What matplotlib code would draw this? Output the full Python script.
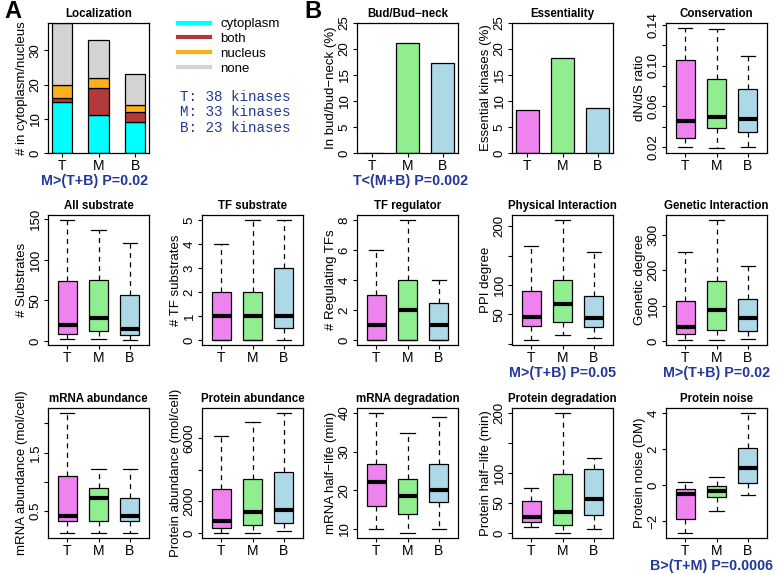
import numpy as np
import matplotlib.pyplot as plt
from matplotlib.lines import Line2D

plt.rcParams['font.family'] = ['Liberation Sans', 'DejaVu Sans']

groups = ['T', 'M', 'B']
group_colors = ['violet', 'lightgreen', 'lightblue']

# Localization counts (stacked from bottom)
loc_names = ['cytoplasm', 'both', 'nucleus', 'none']
loc_cytoplasm = [15, 11, 9]
loc_both = [1, 8, 3]
loc_nucleus = [4, 3, 2]
loc_none = [18, 11, 9]
loc_colors = ['cyan', '#b23a3a', '#fbb117', 'lightgray']
kinase_counts = [38, 33, 23]

bud_pct = [0, 21.2, 17.4]
essential_pct = [8.3, 18.3, 8.7]

# box stats per group: (whislo, q1, median, q3, whishi)
conservation = [(0.020, 0.029, 0.046, 0.105, 0.137),
                (0.019, 0.039, 0.050, 0.087, 0.136),
                (0.020, 0.035, 0.048, 0.077, 0.109)]
all_substrate = [(2, 8, 20, 74, 149), (2, 12, 28, 75, 137), (1, 7, 15, 57, 120)]
tf_substrate = [(0, 0, 1, 2, 4), (0, 0, 1, 2, 5), (0, 0.5, 1, 3, 5)]
tf_regulator = [(0, 0, 1, 3, 6), (0, 0, 2, 4, 8), (0, 0, 1, 2.5, 4)]
ppi_degree = [(6, 30, 46, 89, 166), (14, 37, 67, 109, 211), (10, 29, 43, 82, 157)]
genetic_degree = [(3, 20, 41, 113, 250), (3, 33, 88, 170, 342), (6, 28, 66, 118, 213)]
mrna_abund = [(0.12, 0.32, 0.42, 1.10, 2.18), (0.12, 0.32, 0.72, 0.90, 1.21),
              (0.12, 0.32, 0.42, 0.72, 1.21)]
prot_abund = [(0, 340, 770, 2790, 6090), (20, 490, 1340, 3430, 6980),
              (130, 660, 1490, 3850, 7580)]
mrna_halflife = [(10, 15.9, 22.0, 26.7, 40), (8.9, 13.9, 18.5, 22.9, 34.9),
                 (10, 16.9, 20.1, 26.8, 38.8)]
prot_halflife = [(11, 19, 27, 54, 75), (0, 13, 36, 98, 200), (7, 31, 57, 106, 125)]
prot_noise = [(-2.65, -1.85, -0.5, -0.22, 0.2), (-1.4, -0.64, -0.32, -0.04, 0.47),
              (-0.54, 0.11, 0.95, 2.07, 4.0)]

pcol = '#22389a'

W, H = 778, 574
fig = plt.figure(figsize=(W / 100, H / 100), dpi=100)
col_left = [48, 202, 357, 512, 666]
row_top = [23, 215, 408]
aw, ah = 101, 130


def make_ax(col, row):
    return fig.add_axes([col_left[col] / W, 1 - (row_top[row] + ah) / H, aw / W, ah / H])


def style(ax, title, ylabel, yticks, ylabels, xlim=(0.38, 3.62)):
    ax.set_title(title, fontsize=8.3, fontweight='bold', pad=4)
    ax.set_xlim(*xlim)
    ax.set_xticks([1, 2, 3])
    ax.set_xticklabels(groups, fontsize=10)
    ax.set_yticks(yticks)
    ax.set_yticklabels(ylabels, fontsize=9.5, rotation=90, va='center')
    ax.tick_params(direction='out', length=3, width=0.8, pad=1.5)
    ax.set_ylabel(ylabel, fontsize=9.5, labelpad=1)
    for sp in ax.spines.values():
        sp.set_linewidth(0.9)


def boxes(ax, data):
    stats = [dict(whislo=s[0], q1=s[1], med=s[2], q3=s[3], whishi=s[4], label=g)
             for s, g in zip(data, groups)]
    bp = ax.bxp(stats, positions=[1, 2, 3], widths=0.62, capwidths=0.45,
                showfliers=False, patch_artist=True,
                boxprops=dict(linewidth=0.9, edgecolor='black'),
                medianprops=dict(color='black', linewidth=3, solid_capstyle='butt'),
                whiskerprops=dict(linestyle=(0, (4, 3.5)), linewidth=0.9),
                capprops=dict(linewidth=0.9))
    for patch, c in zip(bp['boxes'], group_colors):
        patch.set_facecolor(c)
    lo = min(s[0] for s in data)
    hi = max(s[4] for s in data)
    pad = 0.04 * (hi - lo)
    ax.set_ylim(lo - pad, hi + pad)


def pnote(ax, text, dx=0.0):
    ax.text(0.5 + dx, -0.215, text, transform=ax.transAxes, ha='center', va='center',
            fontsize=10.3, fontweight='bold', color=pcol)


# Localization
ax = make_ax(0, 0)
bottom = np.zeros(3)
for vals, c in zip([loc_cytoplasm, loc_both, loc_nucleus, loc_none], loc_colors):
    ax.bar([1, 2, 3], vals, width=0.556, bottom=bottom, color=c, edgecolor='black', linewidth=0.9)
    bottom += np.array(vals)
ax.set_ylim(0, 38)
style(ax, 'Localization', '# in cytoplasm/nucleus', [0, 10, 20, 30], ['0', '10', '20', '30'],
      xlim=(0.62, 3.38))
pnote(ax, 'M>(T+B) P=0.02', dx=-0.04)

handles = [Line2D([], [], color=c, linewidth=3) for c in loc_colors]
fig.legend(handles, loc_names, loc='upper left', bbox_to_anchor=(178 / W, 1 - 18 / H),
           frameon=False, fontsize=9.5, handlelength=2.4, labelspacing=0.2,
           handletextpad=0.8, borderaxespad=0, borderpad=0)
for i, (g, n) in enumerate(zip(groups, kinase_counts)):
    fig.text(180 / W, 1 - (97 + 15.5 * i) / H, f'{g}: {n} kinases', family='Liberation Mono',
             fontsize=10.3, color=pcol, va='center')

fig.text(4 / W, 1 - 12 / H, 'A', fontsize=17, fontweight='bold', va='center')
fig.text(304 / W, 1 - 12 / H, 'B', fontsize=17, fontweight='bold', va='center')

# Bud / essentiality
ax = make_ax(2, 0)
ax.bar([1, 2, 3], bud_pct, width=0.667, color=group_colors, edgecolor='black', linewidth=0.9)
ax.set_ylim(0, 25)
ticks = [0, 5, 10, 15, 20, 25]
style(ax, 'Bud/Bud\u2212neck', 'In bud/bud\u2212neck (%)', ticks, [str(t) for t in ticks],
      xlim=(0.56, 3.44))
pnote(ax, 'T<(M+B) P=0.002', dx=0.03)

ax = make_ax(3, 0)
ax.bar([1, 2, 3], essential_pct, width=0.667, color=group_colors, edgecolor='black', linewidth=0.9)
ax.set_ylim(0, 25)
style(ax, 'Essentiality', 'Essential kinases (%)', ticks, [str(t) for t in ticks],
      xlim=(0.56, 3.44))

# Box panels
ax = make_ax(4, 0)
boxes(ax, conservation)
style(ax, 'Conservation', 'dN/dS ratio', [0.02, 0.04, 0.06, 0.08, 0.10, 0.12, 0.14],
      ['0.02', '', '0.06', '', '0.10', '', '0.14'])

ax = make_ax(0, 1)
boxes(ax, all_substrate)
style(ax, 'All substrate', '# Substrates', [0, 50, 100, 150], ['0', '50', '100', '150'])

ax = make_ax(1, 1)
boxes(ax, tf_substrate)
style(ax, 'TF substrate', '# TF substrates', [0, 1, 2, 3, 4, 5], ['0', '1', '2', '3', '4', '5'])

ax = make_ax(2, 1)
boxes(ax, tf_regulator)
style(ax, 'TF regulator', '# Regulating TFs', [0, 2, 4, 6, 8], ['0', '2', '4', '6', '8'])

ax = make_ax(3, 1)
boxes(ax, ppi_degree)
style(ax, 'Physical Interaction', 'PPI degree', [0, 50, 100, 150, 200], ['', '50', '100', '', '200'])
pnote(ax, 'M>(T+B) P=0.05')

ax = make_ax(4, 1)
boxes(ax, genetic_degree)
style(ax, 'Genetic Interaction', 'Genetic degree', [0, 100, 200, 300], ['0', '100', '200', '300'])
pnote(ax, 'M>(T+B) P=0.02')

ax = make_ax(0, 2)
boxes(ax, mrna_abund)
style(ax, 'mRNA abundance', 'mRNA abundance (mol/cell)', [0.5, 1.0, 1.5, 2.0], ['0.5', '', '1.5', ''])

ax = make_ax(1, 2)
boxes(ax, prot_abund)
style(ax, 'Protein abundance', 'Protein abundance (mol/cell)', [0, 2000, 4000, 6000],
      ['0', '2000', '', '6000'])

ax = make_ax(2, 2)
boxes(ax, mrna_halflife)
style(ax, 'mRNA degradation', 'mRNA half\u2212life (min)', [10, 20, 30, 40], ['10', '20', '30', '40'])

ax = make_ax(3, 2)
boxes(ax, prot_halflife)
style(ax, 'Protein degradation', 'Protein half\u2212life (min)', [0, 50, 100, 150, 200],
      ['0', '50', '100', '', '200'])

ax = make_ax(4, 2)
boxes(ax, prot_noise)
style(ax, 'Protein noise', 'Protein noise (DM)', [-2, 0, 2, 4], ['\u22122', '0', '2', '4'])
pnote(ax, 'B>(T+M) P=0.0006', dx=-0.05)

fig.savefig('out.png', dpi=100)
